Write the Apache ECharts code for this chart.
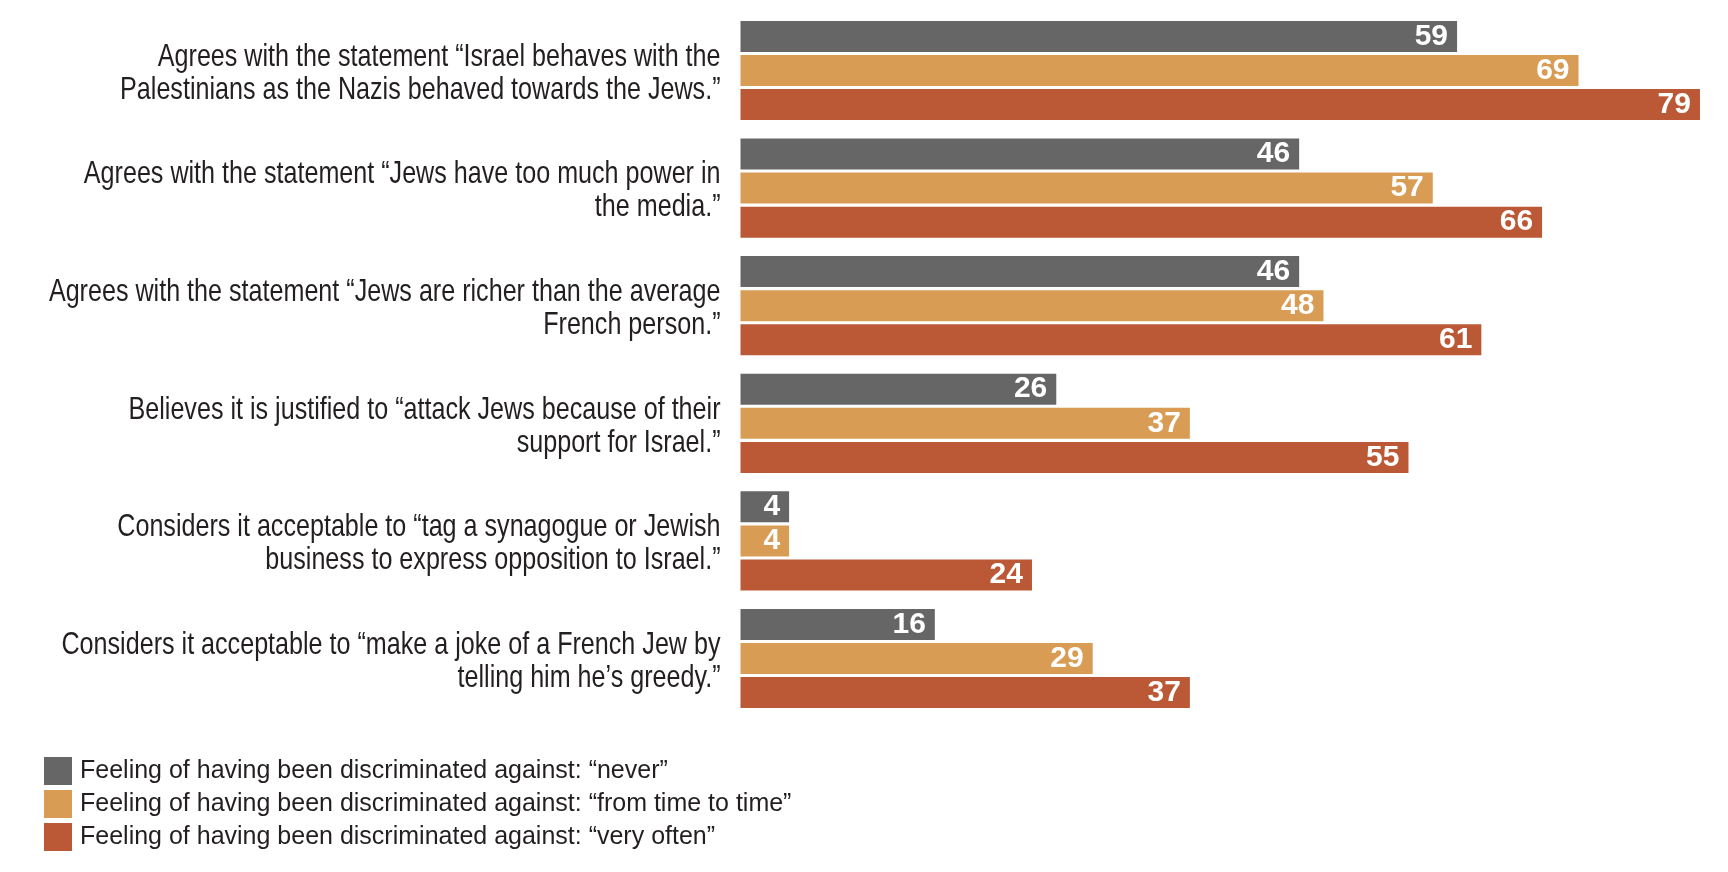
<!DOCTYPE html>
<html>
<head>
<meta charset="utf-8">
<script src="https://cdn.jsdelivr.net/npm/echarts@6/dist/echarts.min.js"></script>
<style>
html,body{margin:0;padding:0;background:#fff;}
#chart{width:1728px;height:872px;}
</style>
</head>
<body>
<div id="chart"></div>
<script>
const categories = [
  'Agrees with the statement \u201cIsrael behaves with the\nPalestinians as the Nazis behaved towards the Jews.\u201d',
  'Agrees with the statement \u201cJews have too much power in\nthe media.\u201d',
  'Agrees with the statement \u201cJews are richer than the average\nFrench person.\u201d',
  'Believes it is justified to \u201cattack Jews because of their\nsupport for Israel.\u201d',
  'Considers it acceptable to \u201ctag a synagogue or Jewish\nbusiness to express opposition to Israel.\u201d',
  'Considers it acceptable to \u201cmake a joke of a French Jew by\ntelling him he\u2019s greedy.\u201d'
];
const seriesNames = [
  'Feeling of having been discriminated against: \u201cnever\u201d',
  'Feeling of having been discriminated against: \u201cfrom time to time\u201d',
  'Feeling of having been discriminated against: \u201cvery often\u201d'
];
const never = [59, 46, 46, 26, 4, 16];
const fromTimeToTime = [69, 57, 48, 37, 4, 29];
const veryOften = [79, 66, 61, 55, 24, 37];
const colors = ['#666666', '#D99C55', '#BB5835'];

const FONT = "'Liberation Sans', Arial, sans-serif";
const TEXT_COLOR = '#231f20';

const chart = echarts.init(document.getElementById('chart'));
const values = [never, fromTimeToTime, veryOften];

const barSeries = seriesNames.map((name, i) => ({
  name: name,
  type: 'bar',
  data: values[i],
  barWidth: 31,
  barGap: '10%',
  itemStyle: { color: colors[i] },
  label: {
    show: true,
    position: 'insideRight',
    distance: 9,
    color: '#ffffff',
    fontFamily: FONT,
    fontWeight: 'bold',
    fontSize: 30
  }
}));

// Category labels drawn through the category axis scale, horizontally condensed
const labelSeries = {
  type: 'custom',
  name: 'categoryLabels',
  silent: true,
  clip: false,
  data: categories.map((c, i) => [0, i]),
  encode: { x: 0, y: 1 },
  renderItem: function (params, api) {
    const idx = api.value(1);
    const pt = api.coord([0, idx]);
    return {
      type: 'text',
      x: pt[0] - 20,
      y: pt[1] + 3,
      scaleX: 0.785,
      style: {
        text: categories[idx],
        x: 0,
        y: 0,
        align: 'right',
        verticalAlign: 'middle',
        fontFamily: FONT,
        fontSize: 32,
        lineHeight: 33,
        fill: TEXT_COLOR
      }
    };
  }
};

chart.setOption({
  animation: false,
  color: colors,
  grid: { left: 740.5, top: 11.7, height: 705.6, width: 971.6, containLabel: false, outerBoundsMode: 'none' },
  xAxis: {
    type: 'value', min: 0, max: 80,
    show: false
  },
  yAxis: {
    type: 'category',
    data: categories,
    inverse: true,
    axisLine: { show: false },
    axisTick: { show: false },
    axisLabel: { show: false }
  },
  legend: {
    orient: 'vertical',
    left: 44,
    top: 757,
    padding: 0,
    itemWidth: 28,
    itemHeight: 28,
    itemGap: 5,
    icon: 'rect',
    textStyle: {
      fontFamily: FONT,
      fontSize: 25,
      color: TEXT_COLOR,
      padding: [2, 0, 0, 3]
    },
    data: seriesNames
  },
  series: barSeries.concat([labelSeries])
});
</script>
</body>
</html>
